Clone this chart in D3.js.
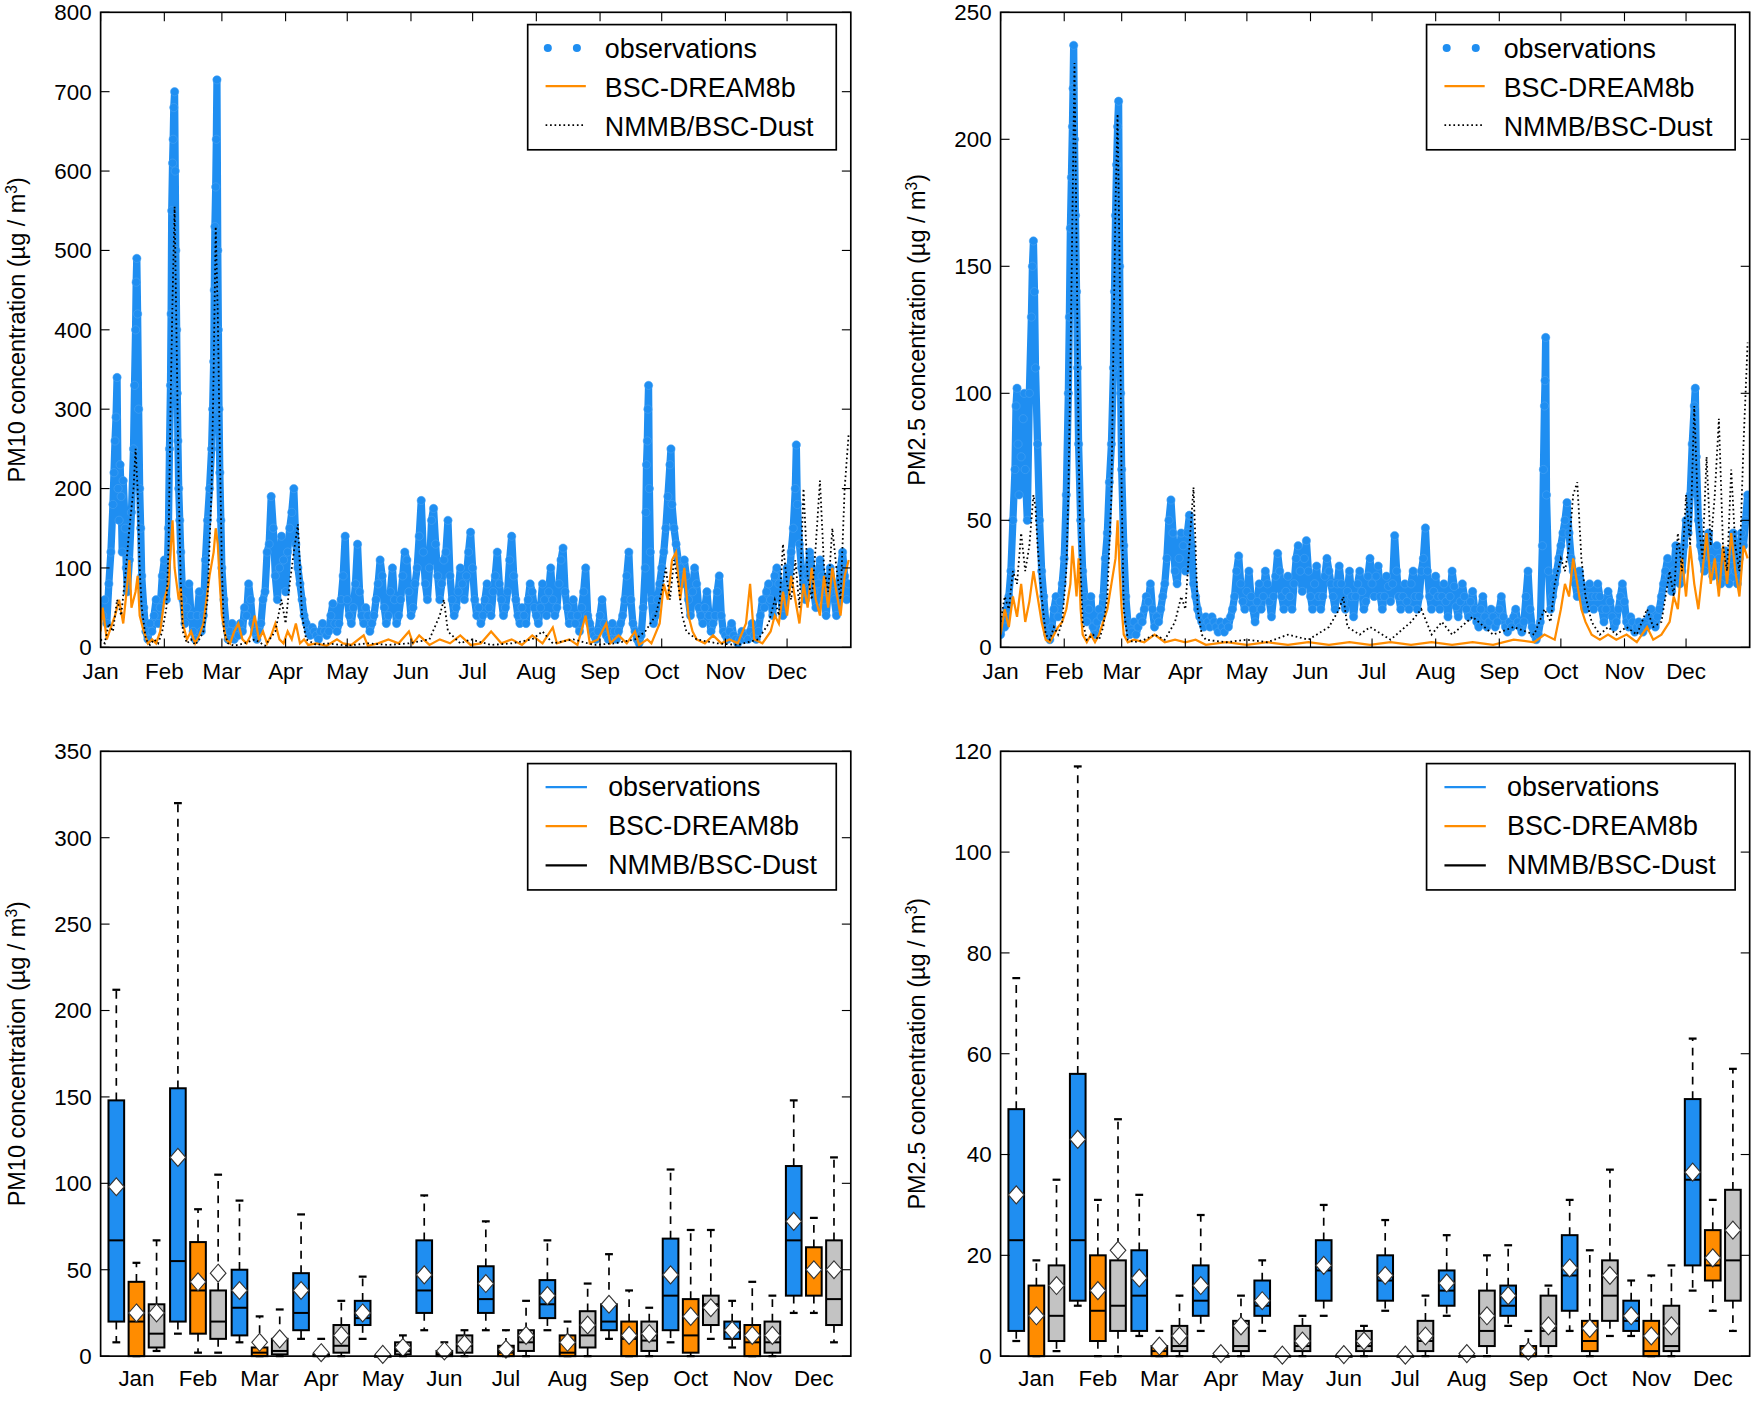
<!DOCTYPE html>
<html><head><meta charset="utf-8">
<script src="https://cdn.jsdelivr.net/npm/d3@7"></script>
<style>body{margin:0;background:#fff}text{font-family:"Liberation Sans",Arial,sans-serif}</style>
</head><body><svg id="c" width="1753" height="1423"></svg>
<script>
const months=["Jan","Feb","Mar","Apr","May","Jun","Jul","Aug","Sep","Oct","Nov","Dec"];
const monthStart=[0,31,59,90,120,151,181,212,243,273,304,334];
const seriesNames=["observations","BSC-DREAM8b","NMMB/BSC-Dust"];

const pm10Obs=[[1,40],[2,60],[3,30],[4,80],[5,120],[6,180],[6.5,220],[7,260],[7.5,290],[8,340],[8.5,200],[9,160],[9.5,230],[10,190],[10.5,120],[11,210],[12,150],[12.5,100],[13,70],[14,110],[15,170],[16,250],[16.5,330],[17,400],[17.3,460],[17.6,490],[18,420],[18.5,300],[19,200],[19.5,150],[20,90],[21,50],[22,20],[23,10],[24,30],[25,20],[26,40],[27,60],[28,30],[29,50],[30,90],[31,110],[32,60],[33,150],[33.5,250],[34,330],[34.3,420],[34.6,550],[35,610],[35.3,640],[35.6,680],[36,700],[36.3,600],[36.6,500],[37,400],[37.3,320],[37.6,260],[38,200],[38.5,160],[39,120],[40,60],[41,30],[42,50],[43,80],[44,40],[45,20],[46,10],[47,40],[48,70],[49,20],[50,40],[51,110],[52,160],[53,200],[54,250],[54.5,300],[55,360],[55.3,450],[55.6,530],[56,580],[56.3,640],[56.6,715],[57,500],[57.3,400],[57.6,300],[58,220],[58.5,160],[59,100],[60,60],[61,30],[62,10],[63,20],[64,30],[65,10],[66,20],[67,15],[68,30],[69,20],[70,50],[71,40],[72,80],[73,60],[74,30],[75,20],[76,10],[77,20],[78,30],[79,60],[80,70],[81,120],[82,130],[83,190],[84,150],[85,90],[86,60],[87,100],[88,140],[89,110],[90,70],[91,120],[92,150],[93,170],[94,200],[95,130],[96,100],[97,80],[98,60],[99,40],[100,30],[101,20],[102,15],[103,25],[104,20],[105,15],[106,10],[107,20],[108,30],[109,20],[110,15],[111,20],[112,40],[113,55],[114,30],[115,20],[116,30],[117,60],[118,90],[119,140],[120,60],[121,40],[122,30],[123,50],[124,80],[125,130],[126,70],[127,40],[128,30],[129,50],[130,40],[131,20],[132,30],[133,40],[134,60],[135,80],[136,110],[137,90],[138,50],[139,30],[140,40],[141,70],[142,100],[143,60],[144,30],[145,40],[146,60],[147,90],[148,120],[149,110],[150,70],[151,40],[152,50],[153,80],[154,100],[155,140],[156,185],[157,120],[158,80],[159,60],[160,100],[161,160],[162,175],[163,130],[164,90],[165,60],[166,80],[167,110],[168,120],[169,160],[170,90],[171,60],[172,40],[173,50],[174,70],[175,100],[176,80],[177,60],[178,90],[179,120],[180,145],[181,100],[182,60],[183,40],[184,50],[185,30],[186,40],[187,60],[188,80],[189,50],[190,40],[191,70],[192,90],[193,120],[194,80],[195,60],[196,40],[197,50],[198,70],[199,110],[200,140],[201,90],[202,60],[203,40],[204,30],[205,50],[206,40],[207,30],[208,60],[209,80],[210,70],[211,50],[212,40],[213,30],[214,50],[215,80],[216,60],[217,40],[218,70],[219,100],[220,60],[221,40],[222,50],[223,80],[224,110],[225,125],[226,70],[227,50],[228,30],[229,40],[230,60],[231,30],[232,40],[233,20],[234,50],[235,70],[236,100],[237,40],[238,30],[239,20],[240,15],[241,10],[242,20],[243,40],[244,60],[245,30],[246,15],[247,10],[248,20],[249,30],[250,20],[251,10],[252,20],[253,30],[254,40],[255,60],[256,90],[257,120],[258,60],[259,30],[260,20],[261,10],[262,5],[263,15],[264,50],[265,100],[265.3,170],[265.6,230],[266,260],[266.3,300],[266.6,330],[267,200],[267.5,120],[268,60],[269,30],[270,40],[271,60],[272,80],[273,100],[274,120],[275,150],[276,190],[277,230],[277.5,250],[278,180],[279,150],[280,130],[281,110],[282,100],[283,80],[284,110],[285,90],[286,60],[287,40],[288,70],[289,100],[290,80],[291,50],[292,40],[293,30],[294,50],[295,70],[296,40],[297,20],[298,30],[299,40],[300,70],[301,90],[302,40],[303,20],[304,15],[305,10],[306,20],[307,30],[308,15],[309,10],[310,5],[311,10],[312,20],[313,10],[314,15],[315,10],[316,20],[317,30],[318,15],[319,10],[320,20],[321,40],[322,60],[323,50],[324,70],[325,80],[326,60],[327,40],[328,90],[329,100],[330,80],[331,60],[332,40],[333,70],[334,100],[335,80],[336,120],[337,150],[338,200],[338.5,255],[339,180],[340,130],[341,100],[342,80],[343,60],[344,90],[345,120],[346,100],[347,70],[348,50],[349,80],[350,110],[351,90],[352,60],[353,40],[354,70],[355,100],[356,80],[357,60],[358,40],[359,70],[360,100],[361,120],[362,90],[363,60],[364,80]];
const pm10Dream=[[0,20],[1,50],[2,30],[3,10],[5,25],[7,40],[9,60],[11,30],[13,80],[14,110],[15,50],[17,70],[18,90],[19,40],[21,20],[23,5],[25,10],[27,5],[29,20],[31,60],[33,80],[34,120],[35,160],[36,100],[37,80],[38,60],[39,75],[40,30],[42,10],[44,20],[46,5],[48,15],[50,30],[52,70],[53,90],[55,120],[56,150],[57,130],[58,80],[59,40],[61,10],[63,5],[65,20],[67,30],[69,10],[71,5],[73,15],[75,40],[77,10],[79,20],[81,5],[83,15],[85,30],[87,10],[89,5],[91,20],[93,10],[95,30],[97,5],[99,10],[101,3],[105,5],[110,2],[115,10],[118,5],[122,3],[128,15],[130,2],[135,5],[140,10],[145,5],[150,20],[152,5],[155,15],[160,3],[165,10],[170,5],[175,15],[180,3],[185,5],[190,20],[195,5],[200,10],[205,3],[210,15],[215,5],[220,25],[222,5],[228,10],[232,3],[236,40],[238,5],[242,10],[246,30],[248,5],[252,15],[256,5],[260,20],[262,3],[266,10],[268,5],[272,30],[274,80],[276,60],[278,110],[280,120],[282,60],[284,100],[286,40],[288,20],[290,10],[294,5],[298,15],[302,5],[306,10],[310,5],[314,30],[316,80],[318,10],[322,5],[326,20],[328,40],[330,30],[332,70],[334,40],[336,90],[338,60],[340,30],[342,80],[344,50],[346,100],[348,60],[350,40],[352,90],[354,50],[356,100],[358,70],[360,40],[362,90],[364,110]];
const pm10Nmmb=[[0,10],[2,5],[4,30],[6,20],[8,60],[10,40],[12,90],[14,150],[16,200],[17,250],[18,200],[19,100],[20,50],[22,10],[24,3],[26,10],[28,5],[30,20],[32,50],[33,120],[34,300],[35,440],[36,555],[37,380],[38,200],[39,80],[40,20],[42,5],[44,10],[46,3],[48,10],[50,20],[52,60],[54,200],[55,350],[56,530],[57,420],[58,250],[59,100],[60,20],[62,5],[65,2],[70,5],[75,10],[80,2],[85,20],[88,60],[90,30],[92,80],[94,120],[96,155],[97,100],[98,40],[100,10],[105,3],[110,5],[120,2],[130,5],[140,3],[150,5],[160,10],[165,40],[167,60],[169,20],[175,5],[180,10],[190,3],[200,5],[210,10],[215,20],[220,5],[230,10],[240,3],[250,5],[260,10],[265,20],[270,40],[273,70],[275,100],[277,60],[279,110],[281,80],[283,40],[285,20],[290,10],[300,5],[310,3],[320,10],[325,30],[328,60],[330,40],[332,130],[334,80],[336,60],[338,110],[340,50],[342,200],[344,90],[346,60],[348,130],[350,210],[352,100],[354,70],[356,150],[358,100],[360,60],[362,200],[364,270]];

const pm25Obs=[[0,5],[1,10],[2,8],[3,15],[4,20],[5,30],[6,50],[7,70],[7.5,95],[8,102],[8.5,80],[9,60],[10,75],[11,90],[11.5,100],[12,70],[13,50],[14,100],[15,130],[15.5,150],[16,160],[16.5,140],[17,110],[18,80],[19,50],[20,30],[21,20],[22,10],[23,5],[24,3],[25,8],[26,15],[27,20],[28,12],[29,18],[30,25],[31,35],[32,60],[33,100],[33.5,130],[34,165],[34.5,185],[35,205],[35.3,220],[35.6,237],[36,200],[36.5,170],[37,140],[37.5,110],[38,80],[39,50],[40,30],[41,20],[42,10],[43,15],[44,20],[45,8],[46,5],[47,10],[48,15],[49,12],[50,20],[51,35],[52,45],[53,65],[54,80],[55,110],[55.5,140],[56,170],[56.5,190],[57,205],[57.5,215],[58,150],[58.5,100],[59,70],[60,40],[61,20],[62,10],[63,5],[64,6],[65,10],[66,5],[67,8],[68,12],[69,10],[70,15],[71,20],[72,18],[73,25],[74,15],[75,8],[76,12],[77,10],[78,15],[79,20],[80,25],[81,35],[82,50],[83,58],[84,45],[85,30],[86,25],[87,35],[88,45],[89,40],[90,30],[91,45],[92,52],[93,40],[94,25],[95,20],[96,15],[97,12],[98,10],[99,8],[100,12],[101,10],[102,8],[103,12],[104,10],[105,8],[106,6],[107,10],[108,8],[109,6],[110,10],[111,8],[112,12],[113,15],[114,20],[115,30],[116,36],[117,25],[118,18],[119,15],[120,22],[121,30],[122,20],[123,15],[124,10],[125,18],[126,25],[127,15],[128,20],[129,30],[130,25],[131,18],[132,12],[133,20],[134,28],[135,37],[136,30],[137,20],[138,15],[139,22],[140,28],[141,20],[142,15],[143,25],[144,35],[145,40],[146,30],[147,22],[148,35],[149,42],[150,30],[151,20],[152,15],[153,25],[154,32],[155,20],[156,15],[157,20],[158,28],[159,35],[160,30],[161,25],[162,20],[163,15],[164,25],[165,32],[166,25],[167,18],[168,15],[169,22],[170,30],[171,20],[172,12],[173,20],[174,25],[175,30],[176,22],[177,15],[178,18],[179,28],[180,35],[181,25],[182,20],[183,28],[184,32],[185,20],[186,15],[187,20],[188,28],[189,24],[190,18],[191,25],[192,44],[193,30],[194,20],[195,15],[196,20],[197,25],[198,18],[199,15],[200,25],[201,30],[202,20],[203,15],[204,20],[205,30],[206,35],[207,47],[208,30],[209,20],[210,15],[211,22],[212,28],[213,20],[214,15],[215,20],[216,25],[217,18],[218,12],[219,20],[220,30],[221,24],[222,16],[223,12],[224,18],[225,25],[226,20],[227,15],[228,12],[229,18],[230,22],[231,15],[232,10],[233,8],[234,15],[235,20],[236,12],[237,8],[238,10],[239,15],[240,12],[241,8],[242,10],[243,15],[244,20],[245,12],[246,8],[247,6],[248,10],[249,8],[250,12],[251,15],[252,10],[253,8],[254,6],[255,10],[256,20],[257,30],[258,15],[259,8],[260,5],[261,3],[262,5],[263,10],[264,40],[264.5,70],[265,95],[265.3,105],[265.6,122],[266,60],[267,30],[268,15],[269,20],[270,25],[271,30],[272,35],[273,40],[274,45],[275,50],[276,57],[277,45],[278,35],[279,30],[280,25],[281,20],[282,30],[283,25],[284,20],[285,15],[286,20],[287,25],[288,20],[289,15],[290,20],[291,25],[292,20],[293,15],[294,10],[295,15],[296,22],[297,18],[298,12],[299,8],[300,10],[301,15],[302,20],[303,25],[304,18],[305,10],[306,8],[307,12],[308,10],[309,6],[310,8],[311,10],[312,8],[313,6],[314,10],[315,8],[316,12],[317,15],[318,10],[319,8],[320,12],[321,15],[322,20],[323,25],[324,30],[325,35],[326,28],[327,22],[328,30],[329,40],[330,35],[331,25],[332,30],[333,40],[334,50],[335,45],[336,60],[337,80],[338,95],[338.5,102],[339,75],[340,50],[341,40],[342,35],[343,30],[344,40],[345,45],[346,35],[347,28],[348,32],[349,40],[350,35],[351,25],[352,30],[353,38],[354,30],[355,25],[356,35],[357,45],[358,30],[359,25],[360,35],[361,45],[362,40],[363,50],[364,60]];
const pm25Dream=[[0,5],[2,15],[4,8],[6,20],[8,12],[10,25],[12,10],[14,18],[16,30],[18,20],[20,10],[22,3],[24,2],[26,5],[28,8],[30,10],[32,15],[34,25],[35,40],[36,30],[37,20],[38,35],[39,15],[40,5],[42,2],[44,5],[46,2],[48,5],[50,10],[52,15],[54,25],[56,35],[57,50],[58,30],[59,15],[60,5],[62,2],[65,3],[70,2],[75,5],[80,2],[85,3],[90,2],[95,3],[100,1],[110,2],[120,1],[130,2],[140,1],[150,2],[160,1],[170,2],[180,1],[190,2],[200,1],[210,2],[220,1],[230,2],[240,1],[250,3],[260,2],[265,5],[270,3],[273,15],[275,25],[277,20],[279,35],[281,25],[283,15],[285,10],[288,5],[292,3],[296,5],[300,3],[305,5],[310,2],[315,8],[318,3],[322,5],[326,10],[328,20],[330,15],[332,35],[334,20],[336,40],[338,25],[340,15],[342,30],[344,45],[346,25],[348,35],[350,20],[352,40],[354,25],[356,45],[358,30],[360,20],[362,40],[364,35]];
const pm25Nmmb=[[0,10],[2,20],[4,15],[6,30],[8,25],[10,45],[12,30],[14,40],[16,60],[17,55],[18,40],[20,20],[22,5],[24,3],[26,8],[28,5],[30,10],[32,30],[33,60],[34,110],[35,170],[36,230],[37,160],[38,80],[39,30],[40,10],[42,3],[45,5],[48,3],[50,8],[52,20],[54,60],[55,120],[56,175],[57,210],[58,150],[59,60],[60,15],[62,3],[65,2],[70,3],[75,5],[80,3],[85,10],[88,20],[90,15],[92,40],[94,63],[95,40],[96,15],[98,5],[100,3],[110,2],[120,3],[130,2],[140,5],[150,3],[160,8],[165,15],[167,20],[169,8],[175,5],[180,8],[190,3],[200,10],[205,15],[210,5],[215,10],[220,5],[230,12],[240,5],[250,8],[260,5],[265,15],[268,10],[270,25],[273,35],[275,30],[277,40],[279,60],[281,65],[283,35],[285,20],[288,10],[292,5],[296,8],[300,5],[305,8],[310,5],[315,15],[318,8],[322,10],[326,30],[328,20],[330,45],[332,30],[334,60],[336,40],[338,95],[340,50],[342,35],[344,75],[346,40],[348,60],[350,90],[352,40],[354,30],[356,70],[358,40],[360,30],[362,80],[364,120]];

// box stats per month: [low, q1, median, q3, high, mean]
const pm10BoxObs=[[8,20,67,148,212,98],[13,20,55,155,320,115],[8,12,28,50,90,38],[10,15,25,48,82,38],[10,18,22,32,46,25],[15,25,38,67,93,47],[15,25,33,52,78,42],[15,22,30,44,67,35],[10,15,20,30,59,30],[8,15,35,68,108,47],[5,10,14,20,32,15],[25,35,67,110,148,78]];
const pm10BoxDream=[[0,0,20,43,54,25],[2,13,38,66,85,43],[0,0,2,5,23,8],[0,0,0,1,10,2],[0,0,0,0,2,1],[0,0,1,3,8,3],[0,0,2,6,15,4],[0,0,2,12,20,8],[0,0,10,20,38,12],[0,2,12,33,73,23],[0,0,8,18,43,12],[25,35,50,63,80,50]];
const pm10BoxNmmb=[[3,5,13,30,67,25],[2,10,20,38,105,48],[0,1,3,10,27,10],[0,2,6,18,32,12],[0,1,3,8,12,5],[0,2,6,12,15,7],[0,3,8,15,32,12],[0,5,12,26,42,18],[0,3,9,20,28,13],[10,18,30,35,73,28],[0,2,8,20,35,12],[8,18,33,67,115,50]];
const pm25BoxObs=[[3,5,23,49,75,32],[10,11,23,56,117,43],[4,5,12,21,32,15.5],[5,8,11,18,28,14],[5,8,10,15,19,11],[8,11,17,23,30,18],[9,11,15,20,27,16],[8,10,13,17,24,14.5],[6,8,10,14,22,12],[5,9,16,24,31,17.5],[4,5,7,11,15,8],[13,18,35,51,63,36.5]];
const pm25BoxDream=[[0,0,8,14,19,8],[0,3,9,20,31,13],[0,0,1,2,5,2],[0,0,0,0,1,0.5],[0,0,0,0,0.5,0.2],[0,0,0,0,1,0.3],[0,0,0,0,0.5,0.2],[0,0,0,0,1,0.5],[0,0,0,2,5,1],[0,1,3,7,21,5.5],[0,0,1,7,16,4],[9,15,18,25,31,19.5]];
const pm25BoxNmmb=[[1,3,8,18,35,14],[0,5,10,19,47,21],[0,1,2,6,12,4],[0,1,2,7,12,6],[0,1,2,6,8,3],[0,1,2,5,6,3],[0,1,3,7,12,4],[0,2,5,13,20,8],[0,2,5,12,14,6],[4,7,12,19,37,16],[0,1,2,10,18,6],[5,11,19,33,57,25]];

const BLUE="#1f8ef1",ORANGE="#ff8c00",GRAY="#c3c3c3";
const svg=d3.select("#c").append("g").attr("transform","scale(1.118)");

function frame(g,x0,x1,y0,y1,y,ticks,label){
  ticks.forEach(t=>{
    const yy=y(t);
    g.append("line").attr("x1",x0).attr("x2",x0+8).attr("y1",yy).attr("y2",yy).attr("stroke","#000");
    g.append("line").attr("x1",x1).attr("x2",x1-8).attr("y1",yy).attr("y2",yy).attr("stroke","#000");
    g.append("text").attr("x",x0-8).attr("y",yy+7).attr("text-anchor","end").attr("font-size",20).text(t);
  });
  const t=g.append("text").attr("transform",`translate(${x0-68},${(y0+y1)/2}) rotate(-90)`).attr("text-anchor","middle").attr("font-size",21);
  t.append("tspan").text(label+" concentration (µg / m");
  t.append("tspan").attr("baseline-shift","super").attr("font-size",14).text("3");
  t.append("tspan").text(")");
}
function border(g,x0,x1,y0,y1){
  g.append("rect").attr("x",x0).attr("y",y0).attr("width",x1-x0).attr("height",y1-y0).attr("fill","none").attr("stroke","#000").attr("stroke-width",1.5);
}

function ts(x0,x1,y0,y1,ymax,ticks,label,obs,dream,nmmb){
  const g=svg.append("g");
  const x=d3.scaleLinear().domain([0,365]).range([x0,x1]);
  const y=d3.scaleLinear().domain([0,ymax]).range([y1,y0]);
  const clip="cl"+x0;
  g.append("clipPath").attr("id",clip).append("rect").attr("x",x0).attr("y",y0).attr("width",x1-x0).attr("height",y1-y0);
  const p=g.append("g").attr("clip-path",`url(#${clip})`);
  const line=d3.line().x(d=>x(d[0])).y(d=>y(d[1]));
  // dense observation band (hourly samples drawn as overlapping dots)
  p.append("path").attr("d",line(obs)).attr("fill","none").attr("stroke",BLUE).attr("stroke-width",6.5).attr("stroke-linejoin","round").attr("stroke-linecap","round");
  p.selectAll("circle").data(obs).join("circle").attr("cx",d=>x(d[0])).attr("cy",d=>y(d[1])).attr("r",3.7).attr("fill",BLUE).attr("stroke","#4aa3f5").attr("stroke-width",0.5);
  p.append("path").attr("d",line(dream)).attr("fill","none").attr("stroke",ORANGE).attr("stroke-width",2);
  p.append("path").attr("d",line(nmmb)).attr("fill","none").attr("stroke","#000").attr("stroke-width",1.6).attr("stroke-dasharray","1.5,2.5");
  frame(g,x0,x1,y0,y1,y,ticks,label);
  monthStart.forEach((m,i)=>{
    g.append("line").attr("x1",x(m)).attr("x2",x(m)).attr("y1",y1).attr("y2",y1-8).attr("stroke","#000");
    g.append("line").attr("x1",x(m)).attr("x2",x(m)).attr("y1",y0).attr("y2",y0+8).attr("stroke","#000");
    g.append("text").attr("x",x(m)).attr("y",y1+28).attr("text-anchor","middle").attr("font-size",20).text(months[i]);
  });
  border(g,x0,x1,y0,y1);
  const lx=x1-289,ly=y0+11;
  const L=g.append("g");
  L.append("rect").attr("x",lx).attr("y",ly).attr("width",276).attr("height",112).attr("fill","#fff").attr("stroke","#000").attr("stroke-width",1.5);
  [lx+18,lx+44].forEach(cx=>L.append("circle").attr("cx",cx).attr("cy",ly+21).attr("r",3.6).attr("fill",BLUE));
  L.append("line").attr("x1",lx+16).attr("x2",lx+52).attr("y1",ly+55).attr("y2",ly+55).attr("stroke",ORANGE).attr("stroke-width",2);
  L.append("line").attr("x1",lx+16).attr("x2",lx+52).attr("y1",ly+90).attr("y2",ly+90).attr("stroke","#000").attr("stroke-width",1.6).attr("stroke-dasharray","1.5,2.5");
  seriesNames.forEach((s,i)=>L.append("text").attr("x",lx+69).attr("y",ly+30+i*35).attr("font-size",24).text(s));
}

function box(x0,x1,y0,y1,ymax,ticks,label,sets){
  const g=svg.append("g");
  const xb=d3.scaleBand().domain(months).range([x0+4.5,x1-5.5]);
  const y=d3.scaleLinear().domain([0,ymax]).range([y1,y0]);
  const cols=[BLUE,ORANGE,GRAY],off=[-18,0,18],w=14;
  sets.forEach((set,si)=>{
    set.forEach((d,mi)=>{
      const cx=xb(months[mi])+xb.bandwidth()/2+off[si];
      const [lo,q1,md,q3,hi,mn]=d;
      g.append("line").attr("x1",cx).attr("x2",cx).attr("y1",y(q3)).attr("y2",y(hi)).attr("stroke","#000").attr("stroke-width",1.5).attr("stroke-dasharray","7,6");
      g.append("line").attr("x1",cx).attr("x2",cx).attr("y1",y(q1)).attr("y2",y(lo)).attr("stroke","#000").attr("stroke-width",1.5).attr("stroke-dasharray","7,6");
      g.append("line").attr("x1",cx-3.5).attr("x2",cx+3.5).attr("y1",y(hi)).attr("y2",y(hi)).attr("stroke","#000").attr("stroke-width",2);
      g.append("line").attr("x1",cx-3.5).attr("x2",cx+3.5).attr("y1",y(lo)).attr("y2",y(lo)).attr("stroke","#000").attr("stroke-width",2);
      g.append("rect").attr("x",cx-w/2).attr("y",y(q3)).attr("width",w).attr("height",Math.max(0.5,y(q1)-y(q3))).attr("fill",cols[si]).attr("stroke","#000").attr("stroke-width",1.8);
      g.append("line").attr("x1",cx-w/2).attr("x2",cx+w/2).attr("y1",y(md)).attr("y2",y(md)).attr("stroke","#000").attr("stroke-width",1.8);
      const my=y(mn);
      g.append("path").attr("d",`M${cx},${my-8}L${cx+7},${my}L${cx},${my+8}L${cx-7},${my}Z`).attr("fill","#fff").attr("stroke","#333").attr("stroke-width",1);
    });
  });
  frame(g,x0,x1,y0,y1,y,ticks,label);
  months.forEach(m=>{
    const cx=xb(m)+xb.bandwidth()/2;
    g.append("text").attr("x",cx).attr("y",y1+27).attr("text-anchor","middle").attr("font-size",20).text(m);
  });
  border(g,x0,x1,y0,y1);
  const lx=x1-289,ly=y0+11;
  const L=g.append("g");
  L.append("rect").attr("x",lx).attr("y",ly).attr("width",276).attr("height",113).attr("fill","#fff").attr("stroke","#000").attr("stroke-width",1.5);
  [BLUE,ORANGE,"#000"].forEach((c,i)=>{
    L.append("line").attr("x1",lx+16).attr("x2",lx+53).attr("y1",ly+21+i*35).attr("y2",ly+21+i*35).attr("stroke",c).attr("stroke-width",2);
    L.append("text").attr("x",lx+72).attr("y",ly+29+i*35).attr("font-size",24).text(seriesNames[i]);
  });
}

ts(90,761,11,579,800,[0,100,200,300,400,500,600,700,800],"PM10",pm10Obs,pm10Dream,pm10Nmmb);
ts(895,1565,11,579,250,[0,50,100,150,200,250],"PM2.5",pm25Obs,pm25Dream,pm25Nmmb);
box(90,761,672,1213,350,[0,50,100,150,200,250,300,350],"PM10",[pm10BoxObs,pm10BoxDream,pm10BoxNmmb]);
box(895,1565,672,1213,120,[0,20,40,60,80,100,120],"PM2.5",[pm25BoxObs,pm25BoxDream,pm25BoxNmmb]);
</script></body></html>
